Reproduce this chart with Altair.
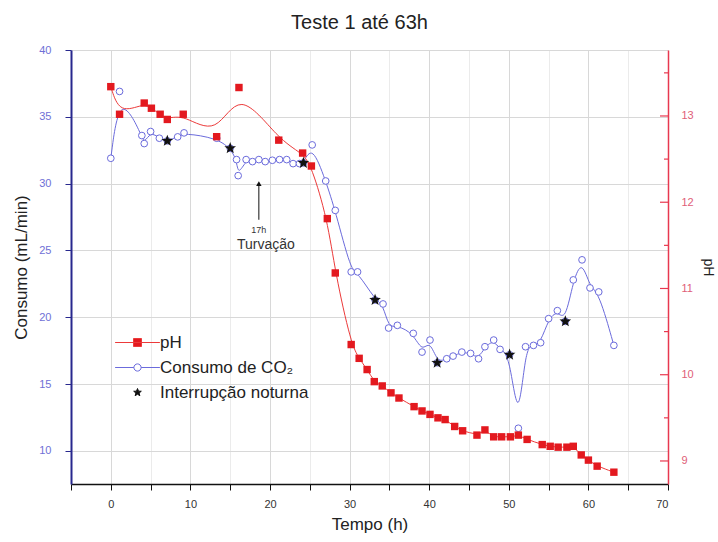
import altair as alt
import pandas as pd

# pH readings (time in h, pH)
ph_t = [0.0, 1.1, 4.2, 5.1, 6.2, 7.1, 9.1, 13.3, 16.1, 21.1, 24.1, 25.2, 27.2, 28.2,
        30.2, 31.2, 32.2, 33.1, 34.1, 35.2, 36.2, 38.1, 39.1, 40.1, 41.1, 42.0, 43.2,
        44.2, 46.0, 47.0, 48.1, 49.1, 50.2, 51.2, 52.3, 54.2, 55.2, 56.2, 57.3, 58.1,
        59.1, 60.0, 61.1, 63.2]
ph_v = [13.34, 13.02, 13.15, 13.09, 13.02, 12.96, 13.02, 12.76, 13.33, 12.72, 12.57,
        12.42, 11.81, 11.18, 10.35, 10.19, 10.06, 9.92, 9.87, 9.79, 9.73, 9.63, 9.58,
        9.54, 9.50, 9.48, 9.40, 9.35, 9.30, 9.36, 9.28, 9.28, 9.28, 9.30, 9.25, 9.19,
        9.17, 9.16, 9.16, 9.17, 9.07, 9.01, 8.94, 8.87]

# CO2 consumption (time in h, mL/min)
co2_t = [0.0, 1.1, 3.9, 4.2, 5.0, 6.1, 7.1, 8.4, 9.2, 13.3, 15.0, 15.8, 16.0, 17.0,
         17.8, 18.6, 19.4, 20.3, 21.2, 22.1, 22.9, 23.7, 24.2, 25.3, 27.0, 28.2, 30.2,
         31.0, 33.2, 34.2, 34.9, 36.0, 38.0, 39.1, 40.1, 41.0, 42.2, 43.0, 44.1, 45.2,
         46.2, 47.0, 48.1, 48.9, 50.1, 51.2, 52.1, 53.1, 54.0, 55.0, 56.1, 57.1, 58.1,
         59.2, 60.2, 61.3, 63.2]
co2_v = [31.9, 36.9, 33.6, 33.0, 33.9, 33.4, 33.2, 33.5, 33.8, 33.4, 32.65, 31.8, 30.6,
         31.8, 31.65, 31.8, 31.65, 31.75, 31.8, 31.8, 31.5, 31.5, 31.55, 32.9, 30.2,
         28.0, 23.4, 23.4, 21.3, 21.0, 19.2, 19.4, 18.8, 17.4, 18.3, 16.6, 16.9, 17.1,
         17.4, 17.3, 16.9, 17.8, 18.3, 17.6, 17.2, 11.7, 17.8, 17.9, 18.1, 19.9, 20.5,
         19.7, 22.8, 24.3, 22.2, 21.9, 17.9]

# night-time interruptions
star_t = [7.1, 15.0, 24.2, 33.2, 41.0, 50.1, 57.1]
star_v = [33.2, 32.65, 31.55, 21.3, 16.6, 17.2, 19.7]

# legend entries
series_names = ["pH", "Consumo de CO₂", "Interrupção noturna"]

# annotation
note_t = [18.6]
arrow_top = [30.0]
arrow_bottom = [27.3]

W, H = 597, 434
X_DOM = [-5, 70]
CONS_DOM = [7.53, 40]
PH_DOM = [8.733, 13.765]

FONT = "Liberation Sans"
RED = "#e3191f"
RED_LINE = "#ec3a3a"
RED_AXIS = "#e8384f"
BLUE = "#6b6bdc"
NAVY = "#28288e"

# five-pointed star in the unit box
STAR = ("M0,-1L0.247,-0.34L0.951,-0.309L0.399,0.13L0.588,0.809L0,0.42"
        "L-0.588,0.809L-0.399,0.13L-0.951,-0.309L-0.247,-0.34Z")
LEG_PH = "M-5.6,0H5.6M-1,-1H1V1H-1Z"
LEG_CO2 = ("M-5.6,0H-0.9M0.9,0H5.6M-0.9,0A0.9,0.9,0,1,0,0.9,0"
           "A0.9,0.9,0,1,0,-0.9,0Z")

ph_df = pd.DataFrame({"t": ph_t, "ph": ph_v})
co2_df = pd.DataFrame({"t": co2_t, "v": co2_v})
star_df = pd.DataFrame({"t": star_t, "v": star_v})
note_df = pd.DataFrame({"t": note_t, "top": arrow_top, "bottom": arrow_bottom})

x_enc = alt.X(
    "t:Q",
    scale=alt.Scale(domain=X_DOM, nice=False, zero=False),
    axis=alt.Axis(
        title="Tempo (h)",
        values=list(range(-5, 71, 5)),
        labelExpr="(datum.value % 10 === 0 && datum.value >= 0) ? datum.label : ''",
        tickSize=6,
        gridColor={"condition": {"test": "datum.value % 10 === 0", "value": "#d8d8d8"},
                   "value": "#ebebeb"},
        grid=True,
        domainColor="#111111",
        domainWidth=1.5,
        tickColor="#111111",
        labelColor="#333333",
        labelFontSize=11,
        labelPadding=8,
        titleFontSize=17,
        titleColor="#222222",
        titlePadding=7,
    ),
)

cons_scale = alt.Scale(domain=CONS_DOM, nice=False, zero=False)
ph_scale = alt.Scale(domain=PH_DOM, nice=False, zero=False)

y_cons = alt.Y(
    "v:Q",
    scale=cons_scale,
    axis=alt.Axis(
        title="Consumo (mL/min)",
        orient="left",
        values=[10 + 2.5 * i for i in range(13)],
        labelExpr="datum.value % 5 === 0 ? datum.label : ''",
        tickSize=6,
        gridColor={"condition": {"test": "datum.value % 5 === 0", "value": "#d8d8d8"},
                   "value": "#ebebeb"},
        grid=True,
        domainColor=NAVY,
        domainWidth=2,
        tickColor=NAVY,
        labelColor="#6f6fd6",
        labelFontSize=11,
        labelPadding=14,
        titleFontSize=17,
        titleColor="#222222",
        titlePadding=8,
    ),
)

co2_line = alt.Chart(co2_df).mark_line(
    interpolate="basis", color=BLUE, strokeWidth=1
).encode(x=x_enc, y=y_cons)

co2_pts = alt.Chart(co2_df).mark_point(
    shape="circle", size=45, filled=True, fill="white", stroke=BLUE, strokeWidth=1, opacity=1
).encode(x=x_enc, y=y_cons)

arrow_shaft = alt.Chart(note_df).mark_rule(color="#111111", strokeWidth=1).encode(
    x=x_enc, y=alt.Y("top:Q", scale=cons_scale), y2="bottom:Q"
)
arrow_head = alt.Chart(note_df).mark_point(
    shape="triangle-up", size=30, filled=True, color="#111111", opacity=1
).encode(x=x_enc, y=alt.Y("top:Q", scale=cons_scale))
note_small = alt.Chart(note_df).mark_text(
    text="17h", font=FONT, fontSize=9, color="#333333", dy=6, baseline="top"
).encode(x=x_enc, y=alt.Y("bottom:Q", scale=cons_scale))
note_big = alt.Chart(note_df).mark_text(
    text="Turvação", font=FONT, fontSize=14, color="#333333", dy=18, dx=7, baseline="top"
).encode(x=x_enc, y=alt.Y("bottom:Q", scale=cons_scale))

left = alt.layer(co2_line, co2_pts, arrow_shaft, arrow_head, note_small, note_big)

y_ph = alt.Y(
    "ph:Q",
    scale=ph_scale,
    axis=alt.Axis(
        title="pH",
        orient="right",
        values=[9, 10, 11, 12, 13],
        format="d",
        grid=False,
        ticks=False,
        domainColor=RED_AXIS,
        domainWidth=1.5,
        labelColor="#e06078",
        labelFontSize=11,
        labelPadding=13,
        titleFontSize=14,
        titleColor="#222222",
        titlePadding=7,
    ),
)

ph_line = alt.Chart(ph_df).mark_line(
    interpolate="basis", color=RED_LINE, strokeWidth=1
).encode(x=x_enc, y=y_ph)
ph_pts = alt.Chart(ph_df).mark_point(
    shape="square", size=55, filled=True, color=RED, opacity=1
).encode(x=x_enc, y=y_ph)

# inward ticks on the pH axis
ph_major = pd.DataFrame({"ph": [9, 10, 11, 12, 13]})
ph_minor = pd.DataFrame({"ph": [9.5, 10.5, 11.5, 12.5, 13.5]})
ph_tick_major = alt.Chart(ph_major).mark_rule(color=RED_AXIS, strokeWidth=1.2).encode(
    y=alt.Y("ph:Q", scale=ph_scale), x=alt.value(W - 8), x2=alt.value(W)
)
ph_tick_minor = alt.Chart(ph_minor).mark_rule(color=RED_AXIS, strokeWidth=1.2).encode(
    y=alt.Y("ph:Q", scale=ph_scale), x=alt.value(W - 4), x2=alt.value(W)
)

right = alt.layer(ph_line, ph_pts, ph_tick_major, ph_tick_minor)

stars = alt.Chart(star_df).mark_point(
    shape=STAR, size=150, filled=True, color="#111111", opacity=1
).encode(x=x_enc, y=alt.Y("v:Q", scale=cons_scale, axis=None))

# legend carried by a layer whose symbols sit off-canvas (to the left)
legend_cfg = alt.Legend(
    orient="none", legendX=58, legendY=284, title=None, symbolSize=64,
    labelFont=FONT, labelFontSize=17, labelColor="#222222", labelOffset=14,
    rowPadding=7, padding=0, symbolStrokeWidth=1, symbolOpacity=1,
)
legend_df = pd.DataFrame({"serie": series_names})
legend_layer = alt.Chart(legend_df).mark_point(opacity=1, filled=True).encode(
    x=alt.value(-2000),
    y=alt.value(H / 2),
    shape=alt.Shape("serie:N", scale=alt.Scale(domain=series_names,
                                               range=[LEG_PH, LEG_CO2, STAR]),
                    legend=legend_cfg),
    fill=alt.Fill("serie:N", scale=alt.Scale(domain=series_names,
                                             range=[RED, "white", "#111111"]),
                  legend=legend_cfg),
    stroke=alt.Stroke("serie:N", scale=alt.Scale(domain=series_names,
                                                 range=[RED_LINE, BLUE, "#111111"]),
                      legend=legend_cfg),
)

chart = alt.layer(left, right, stars, legend_layer).resolve_scale(
    y="independent"
).properties(
    width=W,
    height=H,
    title=alt.Title("Teste 1 até 63h", font=FONT, fontSize=20, fontWeight="normal",
                    color="#222222", anchor="middle", dx=-10, dy=22, offset=17,
                    baseline="alphabetic"),
    autosize=alt.AutoSizeParams(type="none"),
    padding={"left": 71, "top": 50, "right": 50, "bottom": 58},
).configure_view(stroke=None).configure_axis(
    labelFont=FONT, titleFont=FONT, titleFontWeight="normal"
)

chart.save("out.html", embed_options={"renderer": "svg", "actions": False})
